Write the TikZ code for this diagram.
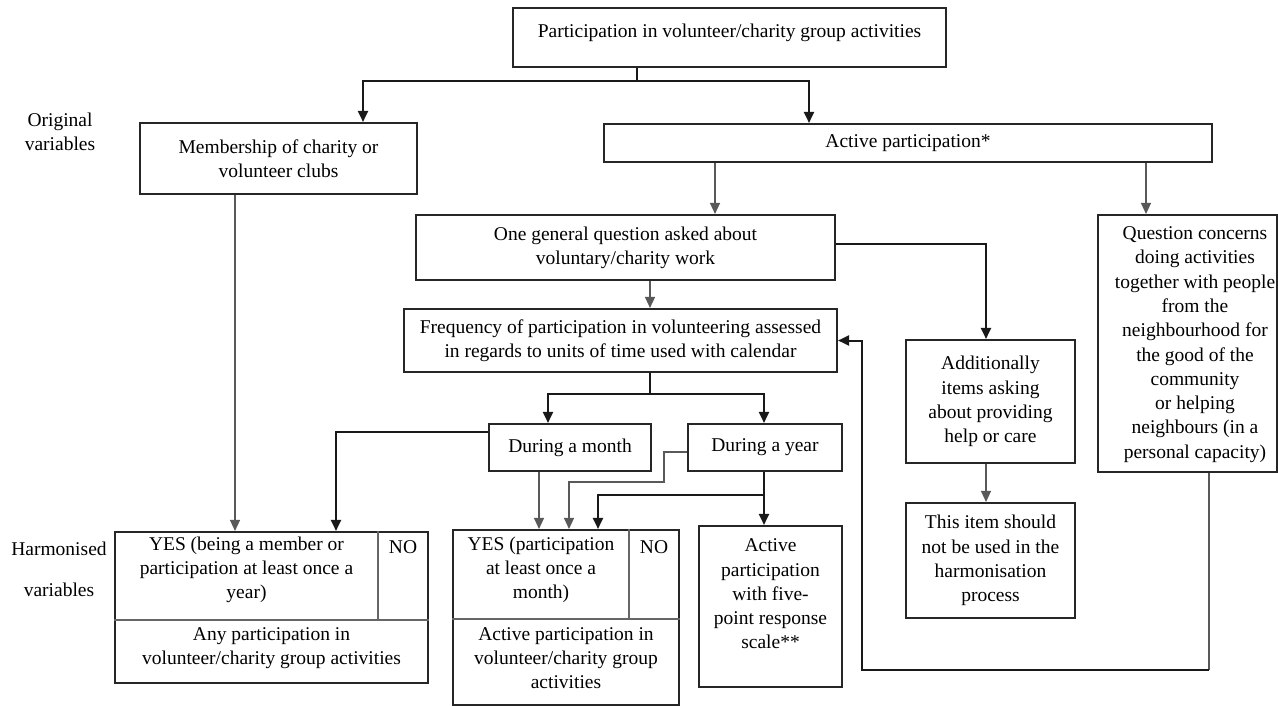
\documentclass[tikz,border=0pt]{standalone}
\usepackage{fontspec}
\setmainfont{Liberation Serif}
\usetikzlibrary{arrows.meta}
\begin{document}
\begin{tikzpicture}[x=1pt,y=-1pt,
  font=\fontsize{19.5}{24.3}\selectfont,
  >={Triangle[length=11pt,width=10pt]},
  box/.style={draw=black!85,line width=2.1pt,inner sep=0pt,align=center},
  txt/.style={inner sep=0pt,align=center},
  thk/.style={draw=black!90,line width=2pt},
  thn/.style={draw=black!65,line width=1.3pt},
  divl/.style={draw=black!60,line width=1.3pt}]
\useasboundingbox (0,0) rectangle (1278,707);
\fill[white] (0,0) rectangle (1278,707);

% boxes
\node[box,minimum width=433pt,minimum height=59pt] (top) at (729.5,37.5) {};
\node[txt] (toptext) at (729.5,33) {Participation in volunteer/charity group activities};
\node[box,minimum width=277pt,minimum height=71pt] (memb) at (278.5,158.5) {Membership of charity or\\volunteer clubs};
\node[box,minimum width=608pt,minimum height=38pt] (active) at (908,143) {Active participation*};
\node[box,minimum width=419pt,minimum height=65pt] (general) at (625.5,247.5) {One general question asked about\\voluntary/charity work};
\node[box,minimum width=179pt,minimum height=257pt] (quest) at (1187.5,343.5) {};
\node[txt] (questtext) at (1195,344.5) {Question concerns\\doing activities\\together with people\\from the\\neighbourhood for\\the good of the\\community\\or helping\\neighbours (in a\\personal capacity)};
\node[box,minimum width=433pt,minimum height=63pt] (freq) at (620.5,340.5) {Frequency of participation in volunteering assessed\\in regards to units of time used with calendar};
\node[box,minimum width=169pt,minimum height=123pt] (addl) at (990.5,401.5) {Additionally\\items asking\\about providing\\help or care};
\node[box,minimum width=169pt,minimum height=115pt] (item) at (990.5,560.5) {This item should\\not be used in the\\harmonisation\\process};
\node[box,minimum width=162pt,minimum height=47pt] (month) at (570,447.5) {During a month};
\node[box,minimum width=154pt,minimum height=47pt] (year) at (765,447.5) {During a year};
\node[box,minimum width=313pt,minimum height=151pt] (yes1) at (271.5,607.5) {};
\node[box,minimum width=226pt,minimum height=175pt] (yes2) at (566,617.5) {};
\node[box,minimum width=143pt,minimum height=161pt] (five) at (770.5,606.5) {};
\node[txt] (fivetext) at (770.5,594) {Active\\participation\\with five-\\point response\\scale**};

% inner dividers of the harmonised boxes
\draw[divl] (yes1.north -| 378,0) -- (378,620);
\draw[divl] (yes1.west |- 0,620) -- (yes1.east |- 0,620);
\draw[divl] (yes2.north -| 629,0) -- (629,619);
\draw[divl] (yes2.west |- 0,619) -- (yes2.east |- 0,619);

% texts inside harmonised boxes
\node[txt] (yes1a) at (246.5,570) {YES (being a member or\\participation at least once a\\year)};
\node[txt] (yes1no) at (403,547) {NO};
\node[txt] (yes1b) at (271.5,648) {Any participation in\\volunteer/charity group activities};
\node[txt] (yes2a) at (541,570) {YES (participation\\at least once a\\month)};
\node[txt] (yes2no) at (654,547) {NO};
\node[txt] (yes2b) at (566,658) {Active participation in\\volunteer/charity group\\activities};

% side labels
\node[txt] (orig) at (60,131.5) {Original\\variables};
\node[txt] (harm1) at (59,549) {Harmonised};
\node[txt] (harm2) at (59,590) {variables};

% connectors
\coordinate (tsplit) at (637,81);
\draw[thk,->] (top.south -| tsplit) -- (tsplit) -| (memb.north -| 363,0);
\draw[thk,->] (tsplit) -| (active.north -| 809,0);
\draw[thn,->] (active.south -| 715,0) -- (general.north -| 715,0);
\draw[thn,->] (active.south -| 1146,0) -- (quest.north -| 1146,0);
\draw[thn,->] (general.south -| 650,0) -- (freq.north -| 650,0);
\draw[thk,->] (general.east |- 0,244) -| (addl.north -| 986,0);
\draw[thn,->] (addl.south -| 986,0) -- (item.north -| 986,0);
\draw[thn,->] (memb.south -| 235,0) -- (yes1.north -| 235,0);

\coordinate (fsplit) at (650,394);
\draw[thk] (freq.south -| fsplit) -- (fsplit);
\draw[thk,->] (fsplit) -| (month.north -| 548,0);
\draw[thk,->] (fsplit) -| (year.north -| 764,0);

\draw[thk,->] (month.west |- 0,432) -| (yes1.north -| 336,0);
\draw[thn,->] (month.south -| 539,0) -- (yes2.north -| 539,0);
\draw[thn,->] (year.west |- 0,452) -| (664,482) -| (yes2.north -| 569,0);

\coordinate (ysplit) at (764,495);
\draw[thk] (year.south -| ysplit) -- (ysplit);
\draw[thk,->] (ysplit) -| (yes2.north -| 598,0);
\draw[thk,->] (ysplit) -- (five.north -| ysplit);

\coordinate (loop) at (1209,670);
\draw[thn] (quest.south -| loop) -- (loop);
\draw[thk,->] (loop) -| ([xshift=24pt]freq.east) -- (freq.east);
\end{tikzpicture}
\end{document}
